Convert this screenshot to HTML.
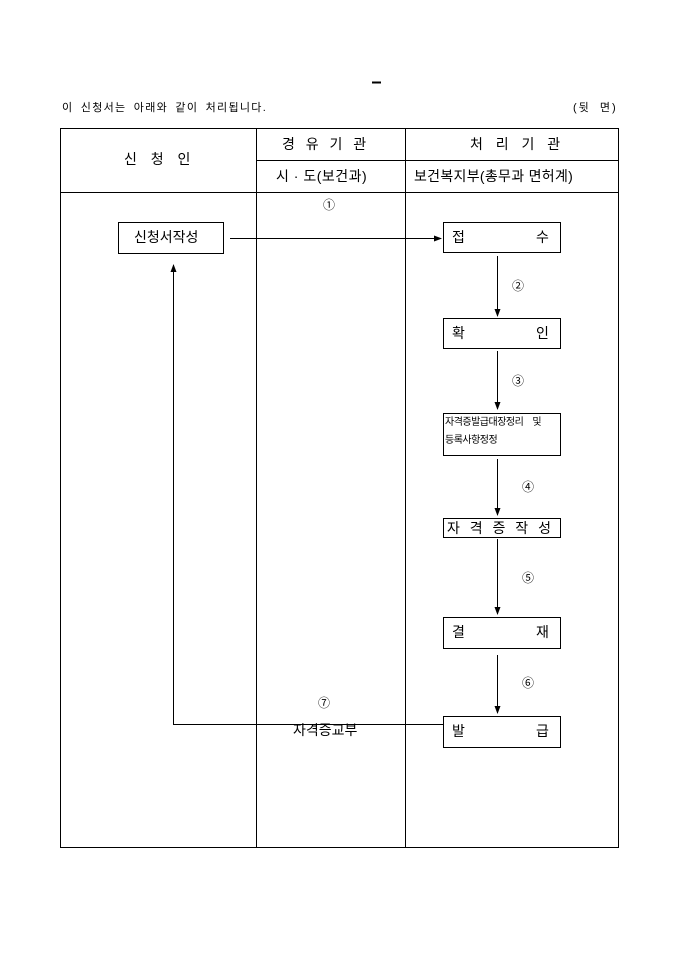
<!DOCTYPE html>
<html><head><meta charset="utf-8"><style>
body{margin:0;background:#fff;width:680px;height:962px;position:relative;font-family:"Liberation Sans","Noto Sans CJK KR","NanumGothic",sans-serif;color:#000}
.t{position:absolute;white-space:nowrap;line-height:1}
</style></head><body>
<svg width="680" height="962" style="position:absolute;left:0;top:0" xmlns="http://www.w3.org/2000/svg">
<defs><marker id="a" markerWidth="8" markerHeight="8" refX="7" refY="4" orient="auto" markerUnits="userSpaceOnUse"><path d="M0,1 L8,4 L0,7z" fill="#000"/></marker></defs>
<g stroke="#000" fill="none" stroke-width="1">
<rect x="60.5" y="128.5" width="558" height="719"/>
<line x1="256.5" y1="128" x2="256.5" y2="847"/>
<line x1="405.5" y1="128" x2="405.5" y2="847"/>
<line x1="256" y1="160.5" x2="618" y2="160.5"/>
<line x1="60" y1="192.5" x2="618" y2="192.5"/>
<rect x="118.5" y="222.5" width="105" height="31"/>
<rect x="443.5" y="222.5" width="117" height="30"/>
<rect x="443.5" y="318.5" width="117" height="30"/>
<rect x="443.5" y="413.5" width="117" height="42"/>
<rect x="443.5" y="518.5" width="117" height="19"/>
<rect x="443.5" y="617.5" width="117" height="31"/>
<rect x="443.5" y="716.5" width="117" height="31"/>
<line x1="230" y1="238.5" x2="441" y2="238.5" marker-end="url(#a)"/>
<line x1="497.5" y1="256" x2="497.5" y2="316" marker-end="url(#a)"/>
<line x1="497.5" y1="351" x2="497.5" y2="409" marker-end="url(#a)"/>
<line x1="497.5" y1="459" x2="497.5" y2="515" marker-end="url(#a)"/>
<line x1="497.5" y1="539" x2="497.5" y2="614" marker-end="url(#a)"/>
<line x1="497.5" y1="655" x2="497.5" y2="713" marker-end="url(#a)"/>
<polyline points="443,724.5 173.5,724.5 173.5,265" marker-end="url(#a)"/>
</g>
<line x1="372" y1="82.5" x2="381" y2="82.5" stroke="#000" stroke-width="2"/>
</svg>
<div class="t" style="left:62px;top:103px;font-size:11px;letter-spacing:1.3px;word-spacing:3px">이 신청서는 아래와 같이 처리됩니다.</div>
<div class="t" style="left:573px;top:103px;font-size:11px;letter-spacing:2px;word-spacing:4px">(뒷 면)</div>
<div class="t" style="left:124px;top:152px;font-size:14px;letter-spacing:2px;word-spacing:6px">신 청 인</div>
<div class="t" style="left:282px;top:137px;font-size:14px;word-spacing:7px">경 유 기 관</div>
<div class="t" style="left:276px;top:169px;font-size:14px;letter-spacing:0.5px">시 · 도(보건과)</div>
<div class="t" style="left:470px;top:137px;font-size:14px;word-spacing:9px">처 리 기 관</div>
<div class="t" style="left:414px;top:169px;font-size:14px;letter-spacing:0.3px">보건복지부(총무과 면허계)</div>
<div class="t" style="left:323px;top:199px;font-size:12px">①</div>
<div class="t" style="left:318px;top:697px;font-size:12px">⑦</div>
<div class="t" style="left:512px;top:280px;font-size:12px">②</div>
<div class="t" style="left:512px;top:375px;font-size:12px">③</div>
<div class="t" style="left:522px;top:481px;font-size:12px">④</div>
<div class="t" style="left:522px;top:572px;font-size:12px">⑤</div>
<div class="t" style="left:522px;top:677px;font-size:12px">⑥</div>
<div class="t" style="left:134px;top:230px;font-size:14px">신청서작성</div>
<div class="t" style="left:452px;top:230px;font-size:14px">접</div>
<div class="t" style="left:536px;top:230px;font-size:14px">수</div>
<div class="t" style="left:452px;top:326px;font-size:14px">확</div>
<div class="t" style="left:536px;top:326px;font-size:14px">인</div>
<div class="t" style="left:445px;top:418px;font-size:10px;letter-spacing:-0.5px">자격증발급대장정리&nbsp;&nbsp;&nbsp;&nbsp;및</div>
<div class="t" style="left:445px;top:436px;font-size:10px;letter-spacing:-0.5px">등록사항정정</div>
<div class="t" style="left:447px;top:521px;font-size:14px;letter-spacing:1px;word-spacing:4px">자 격 증 작 성</div>
<div class="t" style="left:452px;top:625px;font-size:14px">결</div>
<div class="t" style="left:536px;top:625px;font-size:14px">재</div>
<div class="t" style="left:452px;top:724px;font-size:14px">발</div>
<div class="t" style="left:536px;top:724px;font-size:14px">급</div>
<div class="t" style="left:293px;top:723px;font-size:14px">자격증교부</div>
</body></html>
